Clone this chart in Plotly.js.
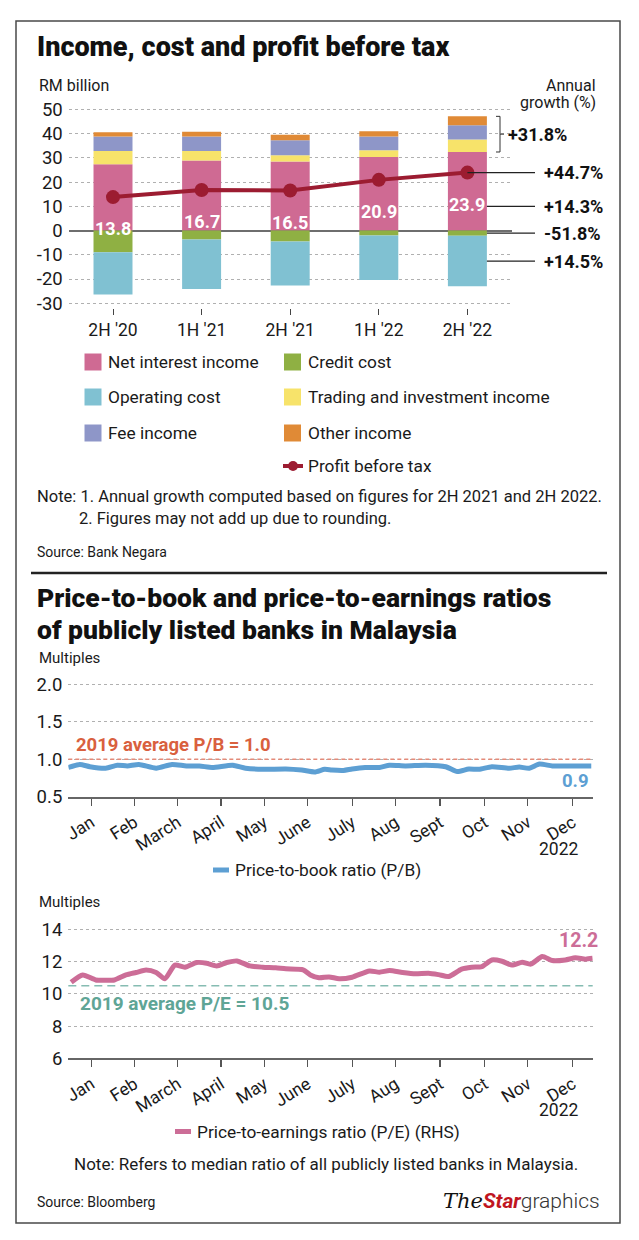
<!DOCTYPE html>
<html>
<head>
<meta charset="utf-8">
<script src="https://cdn.plot.ly/plotly-3.0.1.min.js"></script>
<style>
  html, body { margin: 0; padding: 0; background: #fff; }
  #chart { width: 639px; height: 1240px; }
</style>
</head>
<body>
<div id="chart"></div>
<script>
// ---------------- DATA ----------------
const categories = ["2H '20", "1H '21", "2H '21", "1H '22", "2H '22"];
const netInterestIncome = [27.3, 28.9, 28.5, 30.3, 32.4];
const creditCost = [-9.0, -3.7, -4.5, -2.1, -2.2];
const operatingCost = [-17.4, -20.4, -18.2, -18.3, -20.8];
const tradingInvestmentIncome = [5.5, 3.9, 2.6, 2.8, 5.2];
const feeIncome = [6.0, 6.0, 6.1, 5.7, 5.8];
const otherIncome = [1.7, 2.0, 2.3, 2.2, 3.7];
const profitBeforeTax = [13.8, 16.7, 16.5, 20.9, 23.9];
const growthNonInterest = '+31.8%';
const growthProfit = '+44.7%';
const growthNII = '+14.3%';
const growthCredit = '-51.8%';
const growthOpex = '+14.5%';

const monthTickDates = ['2022-01-17','2022-02-16','2022-03-18','2022-04-17','2022-05-17','2022-06-16',
                        '2022-07-17','2022-08-16','2022-09-16','2022-10-17','2022-11-16','2022-12-17'];
const monthTickLabels = ['Jan','Feb','March','April','May','June','July','Aug','Sept','Oct','Nov','Dec'];

const pbDates = ['2022-01-01','2022-01-09','2022-01-16','2022-01-27','2022-02-04','2022-02-11','2022-02-19',
  '2022-03-03','2022-03-14','2022-03-24','2022-04-02','2022-04-11','2022-04-25','2022-05-04','2022-05-16',
  '2022-06-01','2022-06-12','2022-06-21','2022-06-28','2022-07-03','2022-07-11','2022-07-17','2022-07-26',
  '2022-08-05','2022-08-12','2022-08-23','2022-09-06','2022-09-20','2022-09-28','2022-10-06','2022-10-13',
  '2022-10-22','2022-11-03','2022-11-10','2022-11-17','2022-11-24','2022-12-03','2022-12-14','2022-12-30'];
const pbValues = [0.89,0.93,0.90,0.88,0.92,0.91,0.93,
  0.88,0.93,0.91,0.91,0.89,0.92,0.88,0.865,
  0.87,0.855,0.83,0.865,0.855,0.85,0.87,0.89,
  0.89,0.92,0.91,0.92,0.90,0.835,0.87,0.865,
  0.90,0.88,0.895,0.88,0.935,0.91,0.91,0.91];
const pbAverage2019 = 1.0;

const peDates = ['2022-01-03','2022-01-11','2022-01-20','2022-01-27','2022-02-02','2022-02-10','2022-02-17',
  '2022-02-24','2022-03-03','2022-03-09','2022-03-16','2022-03-23','2022-03-31','2022-04-07','2022-04-14',
  '2022-04-21','2022-04-28','2022-05-07','2022-05-16','2022-05-25','2022-06-01','2022-06-13','2022-06-18',
  '2022-06-24','2022-07-01','2022-07-08','2022-07-17','2022-07-29','2022-08-05','2022-08-12','2022-08-21',
  '2022-08-30','2022-09-08','2022-09-15','2022-09-22','2022-10-01','2022-10-08','2022-10-15','2022-10-22',
  '2022-10-29','2022-11-05','2022-11-12','2022-11-18','2022-11-26','2022-12-03','2022-12-12','2022-12-19',
  '2022-12-26','2022-12-31'];
const peValues = [10.72,11.17,10.86,10.84,10.86,11.17,11.32,
  11.47,11.32,10.93,11.78,11.65,11.94,11.90,11.73,
  11.94,12.04,11.73,11.65,11.61,11.55,11.49,11.17,
  10.99,11.05,10.93,11.03,11.42,11.34,11.44,11.32,
  11.24,11.28,11.19,11.07,11.53,11.65,11.69,12.10,
  12.02,11.78,11.96,11.84,12.31,12.06,12.10,12.23,
  12.15,12.20];
const peAverage2019 = 10.5;

// ---------------- STYLE ----------------
const W = 639, H = 1240;
const px = x => x / W;
const py = y => 1 - y / H;
const FONT = 'Roboto, "DejaVu Sans", sans-serif';
const C = {
  nii: '#cf6a93', credit: '#8fb043', opex: '#80c1d2', trading: '#f7e36a',
  fee: '#8e96c8', other: '#e08a36', pbt: '#9c1c31',
  pb: '#5d9fd3', pe: '#cc6d97', pbAvg: '#d9603e', peAvg: '#5fa596',
  text: '#1a1a1a', grid: '#b0b0b0'
};
const BAR_W = 0.44;

const traces = [];
function bar(name, vals, color) {
  traces.push({type: 'bar', name, x: categories, y: vals, width: BAR_W,
    marker: {color, line: {width: 0}}, xaxis: 'x', yaxis: 'y', showlegend: false, hoverinfo: 'skip'});
}
bar('Net interest income', netInterestIncome, C.nii);
bar('Credit cost', creditCost, C.credit);
bar('Operating cost', operatingCost, C.opex);
bar('Trading and investment income', tradingInvestmentIncome, C.trading);
bar('Fee income', feeIncome, C.fee);
bar('Other income', otherIncome, C.other);
traces.push({type: 'scatter', mode: 'lines+markers', name: 'Profit before tax',
  x: categories, y: profitBeforeTax, xaxis: 'x', yaxis: 'y',
  line: {color: C.pbt, width: 4}, marker: {color: C.pbt, size: 14}, showlegend: false});

traces.push({type: 'scatter', mode: 'lines', name: 'Price-to-book ratio (P/B)',
  x: pbDates, y: pbValues, xaxis: 'x2', yaxis: 'y2',
  line: {color: C.pb, width: 5, shape: 'spline', smoothing: 0.6}, showlegend: false});
traces.push({type: 'scatter', mode: 'lines', name: 'Price-to-earnings ratio (P/E) (RHS)',
  x: peDates, y: peValues, xaxis: 'x3', yaxis: 'y3',
  line: {color: C.pe, width: 5, shape: 'spline', smoothing: 0.6}, showlegend: false});

// ---------------- ANNOTATIONS & SHAPES ----------------
const ann = [];
const shapes = [];
function txt(text, x, y, opts = {}) {
  ann.push(Object.assign({text, x: px(x), y: py(y), xref: 'paper', yref: 'paper',
    xanchor: 'left', yanchor: 'middle', showarrow: false,
    font: {family: FONT, size: 16, color: C.text}}, opts));
}
const TITLE_FONT = {family: FONT, size: 27, color: '#111', weight: 900};

// frame and divider
shapes.push({type: 'rect', xref: 'paper', yref: 'paper', x0: px(16), x1: px(620), y0: py(21), y1: py(1223),
  line: {color: '#4a4a4a', width: 1.5}});
shapes.push({type: 'line', xref: 'paper', yref: 'paper', x0: px(31), x1: px(607), y0: py(573), y1: py(573),
  line: {color: '#222', width: 2.5}});

// chart 1 texts
txt('Income, cost and profit before tax', 35, 47, {font: TITLE_FONT});
txt('RM billion', 37, 86, {font: {family: FONT, size: 16, color: C.text}});
txt('Annual', 598, 86, {xanchor: 'right', font: {family: FONT, size: 16, color: C.text}});
txt('growth (%)', 598, 103, {xanchor: 'right', font: {family: FONT, size: 16, color: C.text}});

// PBT value labels
profitBeforeTax.forEach((v, i) => {
  ann.push({text: '<b>' + v.toFixed(1) + '</b>', x: categories[i], y: v, xref: 'x', yref: 'y',
    showarrow: false, yshift: -19, yanchor: 'top', xanchor: 'center',
    font: {family: FONT, size: 18, color: '#fff'}});
});

// growth annotations
const last = categories.length - 1;
const nonInterestTop = netInterestIncome[last] + tradingInvestmentIncome[last] + feeIncome[last] + otherIncome[last];
const nonInterestBottom = netInterestIncome[last];
const brX = px(500);
shapes.push({type: 'path', xref: 'paper', yref: 'y',
  path: `M ${px(496)} ${nonInterestTop} L ${brX} ${nonInterestTop} L ${brX} ${nonInterestBottom} L ${px(496)} ${nonInterestBottom}`,
  line: {color: '#333', width: 1}});
const brMid = (nonInterestTop + nonInterestBottom) / 2;
shapes.push({type: 'line', xref: 'paper', yref: 'y', x0: brX, x1: px(504), y0: brMid, y1: brMid,
  line: {color: '#333', width: 1}});
function growthLabel(text, yval, xpx, startX) {
  shapes.push({type: 'line', xref: 'paper', yref: 'y', x0: startX, x1: px(535), y0: yval, y1: yval,
    line: {color: '#222', width: 1.2}});
  ann.push({text: '<b>' + text + '</b>', x: px(xpx), y: yval, xref: 'paper', yref: 'y',
    xanchor: 'left', yanchor: 'middle', showarrow: false, font: {family: FONT, size: 18, color: '#111'}});
}
ann.push({text: '<b>' + growthNonInterest + '</b>', x: px(506), y: brMid, xref: 'paper', yref: 'y',
  xanchor: 'left', yanchor: 'middle', showarrow: false, font: {family: FONT, size: 18, color: '#111'}});
const barRight = px(68.7 + (last + 0.5 + BAR_W / 2) * 88.6);
growthLabel(growthProfit, profitBeforeTax[last], 542, px(68.7 + (last + 0.5) * 88.6));
growthLabel(growthNII, 10, 542, barRight);
growthLabel(growthCredit, creditCost[last] / 2, 542, barRight);
growthLabel(growthOpex, creditCost[last] + operatingCost[last] / 2, 542, barRight);

// legend chart 1
const LEG_FONT = {family: FONT, size: 17.3, color: C.text};
const legendItems = [
  ['Net interest income', C.nii, 0, 362], ['Credit cost', C.credit, 1, 362],
  ['Operating cost', C.opex, 0, 397], ['Trading and investment income', C.trading, 1, 397],
  ['Fee income', C.fee, 0, 433], ['Other income', C.other, 1, 433]
];
const colX = [84.5, 284];
legendItems.forEach(([name, color, col, y]) => {
  shapes.push({type: 'rect', xref: 'paper', yref: 'paper', x0: px(colX[col]), x1: px(colX[col] + 17),
    y0: py(y - 8.5), y1: py(y + 8.5), fillcolor: color, line: {width: 0}});
  txt(name, colX[col] + 21.5, y, {font: LEG_FONT});
});
shapes.push({type: 'line', xref: 'paper', yref: 'paper', x0: px(283), x1: px(303), y0: py(466), y1: py(466),
  line: {color: C.pbt, width: 4}});
shapes.push({type: 'circle', xref: 'paper', yref: 'paper', x0: px(288), x1: px(298), y0: py(471), y1: py(461),
  fillcolor: C.pbt, line: {width: 0}});
txt('Profit before tax', 305.5, 466, {font: LEG_FONT});

const NOTE_FONT = {family: FONT, size: 16.5, color: C.text};
txt('Note: 1. Annual growth computed based on figures for 2H 2021 and 2H 2022.', 35, 496, {font: NOTE_FONT});
txt('2. Figures may not add up due to rounding.', 77, 518, {font: NOTE_FONT});
txt('Source: Bank Negara', 35, 552, {font: {family: FONT, size: 14, color: C.text}});

// chart 2 texts
const TITLE2_FONT = {family: FONT, size: 26.5, color: '#111', weight: 900};
txt('Price-to-book and price-to-earnings ratios', 35, 597.5, {font: TITLE2_FONT});
txt('of publicly listed banks in Malaysia', 35, 629.5, {font: TITLE2_FONT});
txt('Multiples', 37, 658, {font: {family: FONT, size: 15, color: C.text}});
txt('2022', 581, 849, {xanchor: 'right', font: {family: FONT, size: 17.5, color: C.text}});

// P/B average line + label
shapes.push({type: 'line', xref: 'x2 domain', yref: 'y2', x0: 0, x1: 1, y0: pbAverage2019, y1: pbAverage2019,
  line: {color: '#e58a78', width: 1.5, dash: '4px,3px'}});
ann.push({text: '<b>2019 average P/B = ' + pbAverage2019.toFixed(1) + '</b>', x: 0.01, y: pbAverage2019,
  xref: 'x2 domain', yref: 'y2', xanchor: 'left', yanchor: 'bottom', yshift: 1, showarrow: false,
  font: {family: FONT, size: 18.5, color: C.pbAvg}});
ann.push({text: '<b>' + pbValues[pbValues.length - 1].toFixed(1) + '</b>', x: pbDates[pbDates.length - 1],
  y: pbValues[pbValues.length - 1], xref: 'x2', yref: 'y2', xanchor: 'right', yanchor: 'top', yshift: -2,
  showarrow: false, font: {family: FONT, size: 18.5, color: C.pb}});

// P/B legend
shapes.push({type: 'line', xref: 'paper', yref: 'paper', x0: px(213), x1: px(229), y0: py(870), y1: py(870),
  line: {color: C.pb, width: 5}});
txt('Price-to-book ratio (P/B)', 233, 870, {font: LEG_FONT});

// chart 3
txt('Multiples', 37, 902, {font: {family: FONT, size: 15, color: C.text}});
txt('2022', 581, 1110, {xanchor: 'right', font: {family: FONT, size: 17.5, color: C.text}});
shapes.push({type: 'line', xref: 'x3 domain', yref: 'y3', x0: 0, x1: 1, y0: peAverage2019, y1: peAverage2019,
  line: {color: '#86bcb2', width: 1.5, dash: '8px,5px'}});
ann.push({text: '<b>2019 average P/E = ' + peAverage2019.toFixed(1) + '</b>', x: 0.018, y: peAverage2019,
  xref: 'x3 domain', yref: 'y3', xanchor: 'left', yanchor: 'top', yshift: -4, showarrow: false,
  font: {family: FONT, size: 19, color: C.peAvg}});
ann.push({text: '<b>' + peValues[peValues.length - 1].toFixed(1) + '</b>', x: peDates[peDates.length - 1],
  y: peValues[peValues.length - 1], xref: 'x3', yref: 'y3', xanchor: 'right', yanchor: 'bottom', yshift: 4, xshift: 7,
  showarrow: false, font: {family: FONT, size: 19.5, color: C.pe}});
shapes.push({type: 'line', xref: 'paper', yref: 'paper', x0: px(175), x1: px(191), y0: py(1131.5), y1: py(1131.5),
  line: {color: C.pe, width: 5}});
txt('Price-to-earnings ratio (P/E) (RHS)', 195, 1131.5, {font: LEG_FONT});
txt('Note: Refers to median ratio of all publicly listed banks in Malaysia.', 326, 1164,
  {xanchor: 'center', font: {family: FONT, size: 17, color: C.text}});
txt('Source: Bloomberg', 35, 1202, {font: {family: FONT, size: 14, color: C.text}});
txt('<span style="font-family:\'DejaVu Serif\';font-style:italic;">The</span><span style="font-weight:bold;font-style:italic;color:#c0151f;">Star</span><span style="font-weight:300;color:#333;">graphics</span>',
  602, 1201, {xanchor: 'right', font: {family: FONT, size: 21, color: '#111'}});

// ---------------- LAYOUT ----------------
const dateAxis = (anchor) => ({
  type: 'date', anchor, domain: [px(68.3), px(592.7)], range: ['2022-01-01', '2022-12-31'],
  tickmode: 'array', tickvals: monthTickDates, ticktext: monthTickLabels, tickangle: -32,
  ticks: 'outside', ticklen: 7, tickcolor: '#555', tickwidth: 1.2,
  showline: true, linecolor: '#666', linewidth: 2, showgrid: false, zeroline: false,
  tickfont: {family: FONT, size: 17.5, color: C.text}, fixedrange: true
});
const valAxis = (range, domain, tickvals, ticktext) => ({
  range, domain, tickmode: 'array', tickvals, ticktext, showgrid: true, gridcolor: C.grid, griddash: 'dot',
  gridwidth: 1, zeroline: false, showline: false, ticks: '', ticklabelstandoff: 5,
  tickfont: {family: FONT, size: 18.5, color: C.text}, fixedrange: true
});

const layout = {
  width: W, height: H, margin: {l: 0, r: 0, t: 0, b: 0},
  paper_bgcolor: '#fff', plot_bgcolor: 'rgba(0,0,0,0)',
  barmode: 'relative', showlegend: false, font: {family: FONT, color: C.text},
  xaxis: {type: 'category', domain: [px(68.7), px(511.7)], range: [-0.5, 4.5], anchor: 'y',
    ticks: 'outside', ticklen: 6, tickcolor: '#444', tickwidth: 1, showline: false, showgrid: false,
    tickfont: {family: FONT, size: 17.5, color: C.text}, fixedrange: true},
  yaxis: Object.assign(valAxis([-32, 51], [py(308.1), py(106.9)], [-30,-20,-10,0,10,20,30,40,50],
      ['-30','-20','-10','0','10','20','30','40','50']),
    {zeroline: true, zerolinecolor: '#6e6e6e', zerolinewidth: 2, anchor: 'x'}),
  xaxis2: dateAxis('y2'),
  yaxis2: Object.assign(valAxis([0.5, 2.03], [py(796.7), py(682)], [0.5, 1, 1.5, 2], ['0.5','1.0','1.5','2.0']), {anchor: 'x2'}),
  xaxis3: dateAxis('y3'),
  yaxis3: Object.assign(valAxis([6, 14.1], [py(1058.3), py(927.7)], [6, 8, 10, 12, 14], ['6','8','10','12','14']), {anchor: 'x3'}),
  annotations: ann, shapes
};

Plotly.newPlot('chart', traces, layout, {displayModeBar: false, staticPlot: true});
</script>
</body>
</html>
